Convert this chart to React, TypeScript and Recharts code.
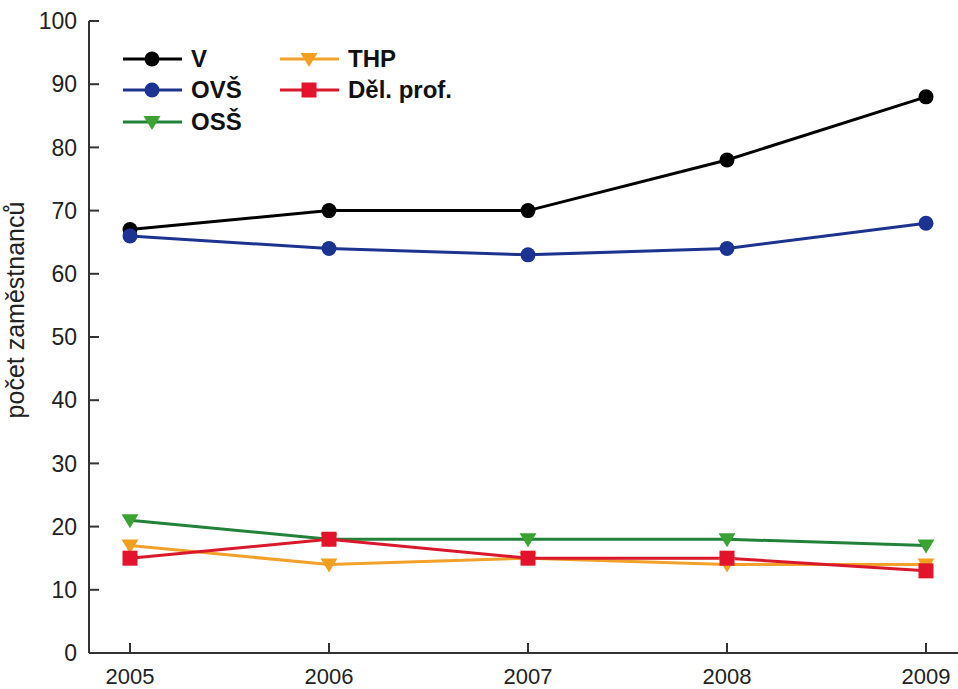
import React from 'react';
import { LineChart, Line, XAxis, YAxis } from 'recharts';

const YEARS = ['2005', '2006', '2007', '2008', '2009'];
const V_VALUES = [67, 70, 70, 78, 88];
const OVS_VALUES = [66, 64, 63, 64, 68];
const OSS_VALUES = [21, 18, 18, 18, 17];
const THP_VALUES = [17, 14, 15, 14, 14];
const DEL_VALUES = [15, 18, 15, 15, 13];
const Y_TICKS = [0, 10, 20, 30, 40, 50, 60, 70, 80, 90, 100];
const Y_LABEL = 'počet zaměstnanců';
const SERIES_NAMES = ['V', 'OVŠ', 'OSŠ', 'THP', 'Děl. prof.'];
const SERIES_KEYS = ['V', 'OVS', 'OSS', 'THP', 'DEL'];

const data = YEARS.map((year, i) => ({
  year,
  V: V_VALUES[i],
  OVS: OVS_VALUES[i],
  OSS: OSS_VALUES[i],
  THP: THP_VALUES[i],
  DEL: DEL_VALUES[i],
}));

const STYLES: Record<string, { line: string; fill: string; shape: string }> = {
  V: { line: '#000000', fill: '#000000', shape: 'circle' },
  OVS: { line: '#1d3390', fill: '#1d3394', shape: 'circle' },
  OSS: { line: '#23823a', fill: '#3aa334', shape: 'triangle' },
  THP: { line: '#f2a12a', fill: '#f0a01e', shape: 'triangle' },
  DEL: { line: '#d9182c', fill: '#e3132b', shape: 'square' },
};

const FONT = '"Liberation Sans", Arial, sans-serif';

function Marker({ shape, cx, cy, fill }: { shape: string; cx: number; cy: number; fill: string }) {
  if (shape === 'circle') return <circle cx={cx} cy={cy} r={7.5} fill={fill} />;
  if (shape === 'square') return <rect x={cx - 7.5} y={cy - 7.5} width={15} height={15} fill={fill} />;
  return <polygon points={`${cx - 8.5},${cy - 6} ${cx + 8.5},${cy - 6} ${cx},${cy + 8}`} fill={fill} />;
}

const YTick = (props: any) => {
  const { x, y, payload } = props;
  return (
    <g>
      <line x1={x} x2={x + 10} y1={y} y2={y} stroke="#333" strokeWidth={2} />
      <text x={x - 12} y={y} dy="0.36em" textAnchor="end" fontSize={23} fontFamily={FONT} fill="#222">
        {payload.value}
      </text>
    </g>
  );
};

const XTick = (props: any) => {
  const { x, y, payload } = props;
  return (
    <g>
      <line x1={x} x2={x} y1={y} y2={y - 10} stroke="#333" strokeWidth={2} />
      <text x={x} y={y + 31} textAnchor="middle" fontSize={22} fontFamily={FONT} fill="#222">
        {payload.value}
      </text>
    </g>
  );
};

const YLabel = (props: any) => {
  const vb = props.viewBox || { x: 0, y: 21, width: 89, height: 632 };
  const cx = vb.x + 24;
  const cy = vb.y + vb.height / 2 - 27;
  return (
    <text
      x={cx}
      y={cy}
      transform={`rotate(-90 ${cx} ${cy})`}
      textAnchor="middle"
      fontSize={25}
      fontFamily={FONT}
      fill="#222"
    >
      {Y_LABEL}
    </text>
  );
};

function Legend() {
  const colX = [123, 280];
  const rowY = [59, 90, 122];
  return (
    <svg width={958} height={200} style={{ position: 'absolute', left: 0, top: 0, pointerEvents: 'none' }}>
      {SERIES_KEYS.map((k, i) => {
        const x0 = colX[Math.floor(i / 3)];
        const y0 = rowY[i % 3];
        const st = STYLES[k];
        return (
          <g key={k}>
            <line x1={x0} x2={x0 + 59} y1={y0} y2={y0} stroke={st.line} strokeWidth={3} />
            <Marker shape={st.shape} cx={x0 + 29} cy={y0} fill={st.fill} />
            <text x={x0 + 68} y={y0 + 8} fontSize={24} fontWeight="bold" fontFamily={FONT} fill="#111">
              {SERIES_NAMES[i]}
            </text>
          </g>
        );
      })}
    </svg>
  );
}

export default function App() {
  return (
    <div style={{ position: 'absolute', left: 0, top: 0, width: 958, height: 689, overflow: 'hidden', background: '#fff' }}>
      <LineChart width={980} height={689} data={data} margin={{ top: 21, right: 13, bottom: 0, left: 0 }}>
        <XAxis
          dataKey="year"
          height={36}
          padding={{ left: 41, right: 41 }}
          tickSize={0}
          tickMargin={0}
          tickLine={false}
          axisLine={{ stroke: '#333', strokeWidth: 2 }}
          tick={<XTick />}
          interval={0}
        />
        <XAxis
          xAxisId="top"
          orientation="top"
          dataKey="year"
          height={0}
          padding={{ left: 41, right: 41 }}
          tick={false}
          tickLine={false}
          axisLine={{ stroke: '#444', strokeWidth: 2 }}
        />
        <YAxis
          width={89}
          domain={[0, 100]}
          ticks={Y_TICKS}
          tickSize={0}
          tickMargin={0}
          tickLine={false}
          axisLine={{ stroke: '#333', strokeWidth: 2 }}
          tick={<YTick />}
          interval={0}
          label={<YLabel />}
        />
        {SERIES_KEYS.map((k, i) => {
          const st = STYLES[k];
          return (
            <Line
              key={k}
              dataKey={k}
              name={SERIES_NAMES[i]}
              stroke={st.line}
              strokeWidth={3}
              isAnimationActive={false}
              dot={(p: any) => <Marker key={`${k}-${p.index}`} shape={st.shape} cx={p.cx} cy={p.cy} fill={st.fill} />}
              activeDot={false}
            />
          );
        })}
      </LineChart>
      <Legend />
    </div>
  );
}
